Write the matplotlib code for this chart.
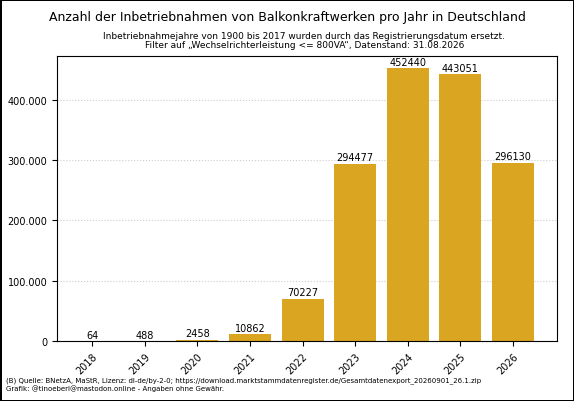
import matplotlib
matplotlib.use("Agg")
import matplotlib.pyplot as plt
from matplotlib.ticker import FuncFormatter

years = ["2018","2019","2020","2021","2022","2023","2024","2025","2026"]
counts = [64,488,2458,10862,70227,294477,452440,443051,296130]

fig = plt.figure(figsize=(5.74,4.02), dpi=100, linewidth=2, edgecolor="black")
ax = fig.add_axes([57/574, 1-342/402, 500/574, 285/402])
bars = ax.bar(years, counts, color="#DAA520", width=0.8)
for b, v in zip(bars, counts):
    ax.text(b.get_x()+b.get_width()/2, v+2000, str(v), ha="center", va="bottom", fontsize=7)
ax.set_xlim(-0.67, 8.84)
ax.set_ylim(0, 473000)
ax.set_yticks([0,100000,200000,300000,400000])
ax.yaxis.set_major_formatter(FuncFormatter(lambda v,p: f"{int(v):,}".replace(",",".")))
ax.tick_params(labelsize=7)
plt.setp(ax.get_xticklabels(), rotation=45, ha="right", rotation_mode="anchor")
ax.set_ylabel("Anzahl", fontsize=6.5)
ax.grid(axis="y", color="#cccccc", linestyle=":", linewidth=0.8)
ax.set_axisbelow(True)
fig.text(0.5, 1-17/402, "Anzahl der Inbetriebnahmen von Balkonkraftwerken pro Jahr in Deutschland", ha="center", va="center", fontsize=9)
fig.text(0.53, 1-41/402, "Inbetriebnahmejahre von 1900 bis 2017 wurden durch das Registrierungsdatum ersetzt.\nFilter auf „Wechselrichterleistung <= 800VA“, Datenstand: 31.08.2026", ha="center", va="center", fontsize=6.5, linespacing=1.1)
fig.text(6/574, 1-385/402, "(B) Quelle: BNetzA, MaStR, Lizenz: dl-de/by-2-0; https://download.marktstammdatenregister.de/Gesamtdatenexport_20260901_26.1.zip\nGrafik: @tinoeberl@mastodon.online - Angaben ohne Gewähr.", ha="left", va="center", fontsize=5, linespacing=1.2)
fig.savefig("out.png", dpi=100, edgecolor=fig.get_edgecolor())
